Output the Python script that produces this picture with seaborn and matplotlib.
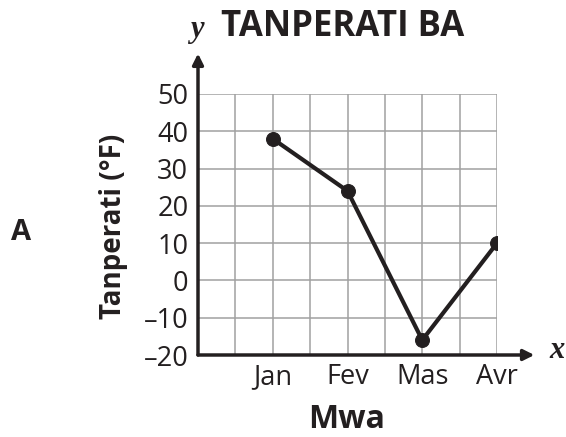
import matplotlib
matplotlib.use("Agg")
import matplotlib.pyplot as plt
import seaborn as sns
import pandas as pd
from matplotlib.ticker import MultipleLocator

# data
months = ["Jan", "Fev", "Mas", "Avr"]
temps = [38, 24, -16, 10]
y_ticks = [-20, -10, 0, 10, 20, 30, 40, 50]

df = pd.DataFrame({"month": months, "temp": temps})

sns.set_style("white")
plt.rcParams["font.family"] = ["Open Sans", "DejaVu Sans"]

W, H = 566, 437
fig = plt.figure(figsize=(W / 100, H / 100), dpi=100)
ax = fig.add_axes([198 / W, 1 - 355 / H, (497 - 198) / W, (355 - 94) / H])

ink = "#231f20"

sns.lineplot(data=df, x="month", y="temp", ax=ax, color=ink, linewidth=3,
             marker="o", markersize=10, markeredgecolor=ink, sort=False, zorder=5)

ax.set_xlim(-1, 3)
ax.set_ylim(-20, 50)
ax.xaxis.set_minor_locator(MultipleLocator(0.5))
ax.set_yticks(y_ticks)
ax.set_yticklabels([str(v).replace("-", "\u2013") for v in y_ticks])
ax.grid(True, which="both", color="#a0a0a0", linewidth=1.1)
ax.tick_params(axis="both", which="both", length=0)
ax.tick_params(axis="y", labelsize=19.5, pad=7, colors=ink)
ax.tick_params(axis="x", labelsize=19.5, pad=6, colors=ink)
for s in ax.spines.values():
    s.set_visible(False)
ax.set_xlabel("")
ax.set_ylabel("")

# axis arrows
ax.annotate("", xy=(1.125, 0), xytext=(0, 0), xycoords="axes fraction",
            arrowprops=dict(arrowstyle="-|>", color=ink, lw=2.5, mutation_scale=16,
                            shrinkA=0, shrinkB=0), annotation_clip=False, zorder=6)
ax.annotate("", xy=(0, 1.155), xytext=(0, 0), xycoords="axes fraction",
            arrowprops=dict(arrowstyle="-|>", color=ink, lw=2.5, mutation_scale=16,
                            shrinkA=0, shrinkB=0), annotation_clip=False, zorder=6)

# texts
fig.text(343 / W, 1 - 27 / H, "TANPERATI BA", fontsize=25, fontweight="bold",
         ha="center", va="center", color=ink)
fig.text(197 / W, 1 - 30 / H, "y", fontsize=22, fontweight="bold", fontstyle="italic",
         family="Liberation Serif", ha="center", va="center", color=ink)
fig.text(557 / W, 1 - 351 / H, "x", fontsize=22, fontweight="bold", fontstyle="italic",
         family="Liberation Serif", ha="center", va="center", color=ink)
fig.text(347 / W, 1 - 420 / H, "Mwa", fontsize=23, fontweight="bold",
         ha="center", va="center", color=ink)
fig.text(113 / W, 1 - 226 / H, "Tanperati (\u00b0F)", fontsize=20, fontweight="bold",
         rotation=90, ha="center", va="center", color=ink)
fig.text(21 / W, 1 - 233 / H, "A", fontsize=21, fontweight="bold",
         ha="center", va="center", color=ink)

fig.savefig("out.png", dpi=100)
